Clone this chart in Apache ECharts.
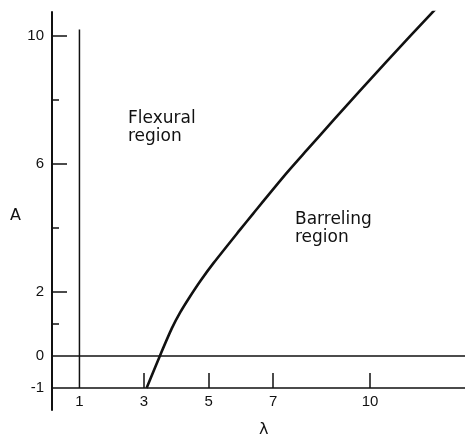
<!DOCTYPE html>
<html>
<head>
<meta charset="utf-8">
<script src="https://cdn.jsdelivr.net/npm/echarts@6/dist/echarts.min.js"></script>
<style>html,body{margin:0;padding:0;background:#fff;}#c{width:465px;height:439px;}</style>
</head>
<body>
<div id="c"></div>
<script>
// Curve: boundary between flexural and barreling regions
var lambdaValues = [3.08, 3.49, 3.86, 4.12, 4.42, 4.75, 5.15, 5.97, 6.38, 7.42, 8.04, 8.86, 10.51, 12.10];
var aValues      = [-1.0, 0.0, 0.86, 1.36, 1.85, 2.35, 2.90, 3.94, 4.45, 5.72, 6.43, 7.36, 9.20, 10.92];
// Vertical boundary at lambda = 1
var boundaryLambda = [1, 1];
var boundaryA = [-1, 10.2];
// Axis ticks and labels
var xTickValues = [3, 5, 7, 10];
var xLabelValues = [1, 3, 5, 7, 10];
var yMajorTicks = [2, 6, 10];
var yMinorTicks = [1, 4, 8];
var yLabelValues = [-1, 0, 2, 6, 10];
var xName = 'λ';
var yName = 'A';
var regionLabels = ['Flexural\nregion', 'Barreling\nregion'];

var curve = lambdaValues.map(function (l, i) { return [l, aValues[i]]; });
var boundary = boundaryLambda.map(function (l, i) { return [l, boundaryA[i]]; });

var ink = '#111';
var chart = echarts.init(document.getElementById('c'), null, {renderer: 'canvas'});
chart.setOption({
  animation: false,
  backgroundColor: '#fff',
  grid: {left: 52, right: 0, top: 12, bottom: 29},
  xAxis: {
    type: 'value', min: 0.15, max: 12.94, offset: -22,
    axisLine: {show: true, onZero: false, lineStyle: {color: ink, width: 1.5}},
    axisTick: {show: true, inside: true, length: 15, customValues: xTickValues, lineStyle: {color: ink, width: 1.5}},
    axisLabel: {customValues: xLabelValues, margin: 6, color: ink, fontSize: 15, fontFamily: 'Liberation Sans'},
    splitLine: {show: false}
  },
  yAxis: [{
    type: 'value', min: -1.69, max: 10.75, position: 'left',
    axisLine: {show: true, onZero: false, lineStyle: {color: ink, width: 2}},
    axisTick: {show: true, inside: true, length: 15, customValues: yMajorTicks, lineStyle: {color: ink, width: 1.5}},
    axisLabel: {customValues: yLabelValues, margin: 8, color: ink, fontSize: 15, fontFamily: 'Liberation Sans'},
    splitLine: {show: false}
  }, {
    type: 'value', min: -1.69, max: 10.75, position: 'left', offset: 0,
    axisLine: {show: false, onZero: false},
    axisTick: {show: true, inside: true, length: 7, customValues: yMinorTicks, lineStyle: {color: ink, width: 1.5}},
    axisLabel: {show: false},
    splitLine: {show: false}
  }],
  graphic: [
    {type: 'text', left: 10, top: 208, style: {text: yName, font: '16px "DejaVu Sans"', fill: ink}},
    {type: 'text', left: 259, top: 422, style: {text: xName, font: '16px "DejaVu Sans"', fill: ink}},
    {type: 'text', left: 128, top: 110, style: {text: regionLabels[0], font: '17px "DejaVu Sans"', lineHeight: 18, fill: ink}},
    {type: 'text', left: 295, top: 211, style: {text: regionLabels[1], font: '17px "DejaVu Sans"', lineHeight: 18, fill: ink}}
  ],
  series: [{
    type: 'line', data: curve, smooth: 0.25, symbol: 'none',
    lineStyle: {color: ink, width: 2.6},
    markLine: {
      silent: true, symbol: 'none', label: {show: false},
      lineStyle: {color: ink, width: 1.5, type: 'solid'},
      data: [{yAxis: 0}]
    }
  }, {
    type: 'line', data: boundary, symbol: 'none',
    lineStyle: {color: ink, width: 1.5}
  }]
});
</script>
</body>
</html>
